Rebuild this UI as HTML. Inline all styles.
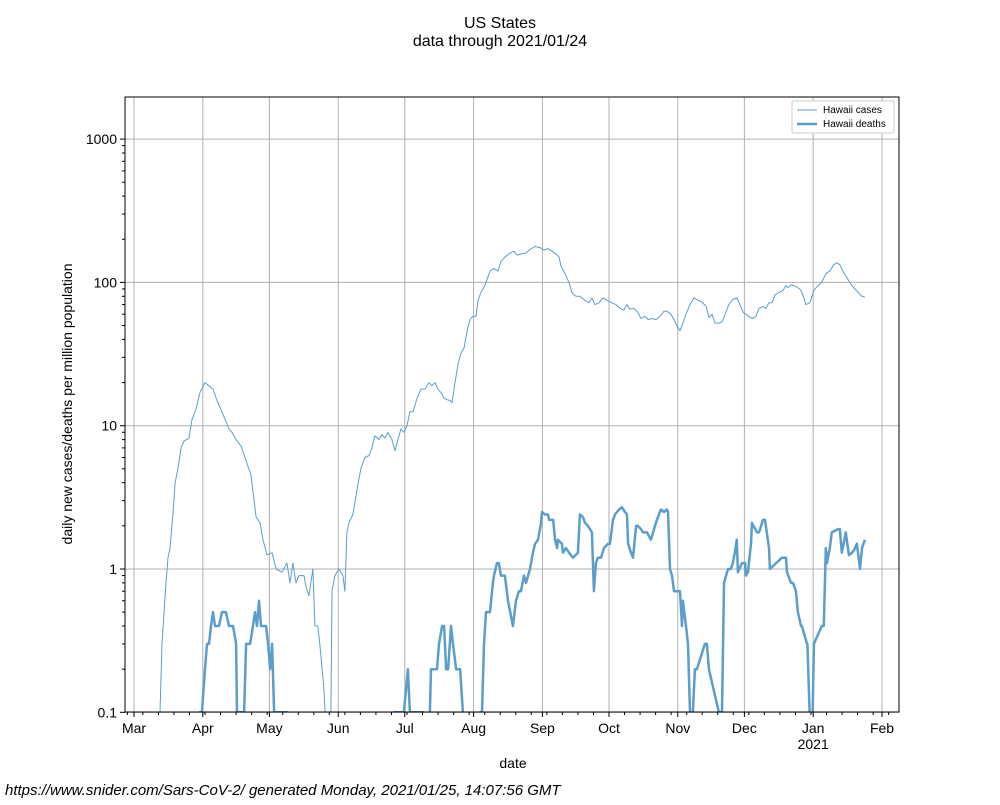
<!DOCTYPE html>
<html><head><meta charset="utf-8"><style>
body{margin:0;background:#fff;width:1000px;height:800px;overflow:hidden;font-family:"Liberation Sans",sans-serif}
svg text{font-family:"Liberation Sans",sans-serif}
</style></head><body>
<svg id="chart" width="1000" height="800"></svg>
<script>
const monthLabels=["Mar","Apr","May","Jun","Jul","Aug","Sep","Oct","Nov","Dec","Jan","Feb"];
const monthDays=[0,31,61,92,122,153,184,214,245,275,306,337];
const yTicks=[0.1,1,10,100,1000];
const yTickLabels=["0.1","1","10","100","1000"];
const caseDays=[11.7,12.6,14.4,15.3,16.2,17.6,18.5,19.8,21.2,22.5,24.8,26.1,27.9,29.7,32.0,33.8,35.6,37.4,40.1,42.8,44.1,46.0,48.2,50.0,52.7,54.1,55.0,56.8,58.1,59.9,62.2,64.0,66.7,68.9,70.3,71.6,73.0,74.3,76.6,77.5,78.8,80.6,81.5,82.8,83.7,85.5,86.4,87.5,88.3,
88.7,89.2,90.5,92.3,94.1,95.0,95.9,96.8,98.6,100.4,102.2,104.0,105.9,107.2,108.5,110.4,111.7,113.1,114.4,116.2,117.6,118.9,120.3,121.6,123.0,124.3,125.7,127.5,129.3,131.1,132.9,134.2,135.6,136.9,138.3,139.7,141.0,142.4,143.3,144.6,146.0,147.3,148.7,150.0,151.4,152.7,154.1,155.0,156.3,158.1,160.4,162.2,164.0,165.3,167.1,169.4,171.2,172.5,174.3,176.6,178.4,180.7,182.9,184.7,186.5,188.3,190.1,191.5,192.4,194.2,196.0,197.3,199.1,200.9,203.2,205.0,206.3,207.7,209.5,211.3,213.1,215.3,217.1,218.9,220.7,222.1,223.4,225.2,227.0,228.4,230.2,231.6,233.4,235.2,237.0,238.8,240.1,241.9,243.3,244.6,246.0,247.3,248.7,250.5,252.3,254.1,255.9,257.7,259.0,260.4,261.7,263.5,264.9,266.7,268.0,269.8,271.6,273.0,274.4,275.7,277.5,278.9,280.2,281.6,283.4,284.7,286.1,287.4,288.8,290.6,292.4,293.7,294.6,296.0,297.3,299.1,300.5,301.8,302.7,304.5,306.3,308.1,309.9,311.7,313.5,315.3,316.7,318.0,319.4,321.2,323.0,324.8,326.6,327.9,329.3];
const caseVals=[0.1,0.3,0.8,1.2,1.4,2.5,4,5,7,7.8,8.2,11,13,17,20,19,18,15,12,9.5,9,8,7.2,6,4.5,3,2.3,2.1,1.6,1.25,1.3,1.0,0.95,1.1,0.8,1.1,0.8,0.9,0.9,0.75,0.65,1.0,0.4,0.4,0.3,0.15,0.08,0.05,0.05,
0.1,0.7,0.9,1.0,0.9,0.7,1.8,2.1,2.4,3.5,5,6,6.2,7,8.5,8,8.7,8.2,9,8,6.7,8,9.5,9,10,12.5,12.5,15.5,18,18,20,19,20,18,17,15.5,15.2,15,14.5,20,27,32,35,45,55,58,58,75,85,95,120,125,120,140,150,160,165,155,158,160,170,178,175,168,172,165,158,150,130,115,100,85,80,80,75,72,78,70,72,78,75,72,70,66,64,70,65,66,62,56,58,55,56,55,58,63,63,60,55,50,46,52,60,70,78,75,73,68,57,60,52,52,53,62,70,76,78,70,62,60,57,56,58,66,68,66,72,72,82,85,88,95,92,96,95,92,88,78,70,72,88,95,100,115,120,133,137,133,120,108,97,90,84,80,79];
const deathDays=[29.3,30.6,32.0,32.9,33.8,34.7,35.6,36.5,38.3,39.6,41.4,42.8,44.6,46.0,46.4,46.9,49.6,50.5,52.3,53.6,54.5,55.4,56.3,57.2,59.5,60.4,61.3,62.2,63.1,68.9,69.5,
116.5,117.1,121.6,123.4,124.3,129.3,130.2,131.1,132.9,133.3,133.8,136.5,137.4,138.8,139.7,140.6,141.5,142.8,143.7,145.1,146.9,148.2,149.6,155.0,155.9,156.8,157.7,158.6,160.4,161.7,162.2,163.5,164.4,165.3,167.1,168.5,170.7,172.1,173.4,174.3,175.7,176.6,178.4,179.7,180.7,182.0,183.4,183.8,185.2,186.5,187.0,188.8,189.7,190.6,191.0,192.8,193.3,194.6,196.0,197.8,200.0,200.9,202.3,203.2,204.5,206.3,207.2,208.1,209.0,210.4,211.7,213.5,214.4,215.8,216.7,218.5,219.8,221.2,222.1,222.6,223.9,224.8,226.2,227.0,228.4,229.3,231.1,232.9,234.3,235.6,236.5,237.4,238.8,240.1,240.6,241.5,242.4,243.3,245.5,246.0,246.9,247.3,248.7,249.6,250.5,251.4,251.8,252.7,253.6,257.2,258.1,259.0,263.5,264.4,264.9,265.8,267.6,268.9,269.8,270.7,271.6,272.1,273.9,275.3,275.7,276.6,278.0,278.4,280.7,281.6,283.4,284.3,286.1,286.5,291.9,293.7,294.2,296.0,296.9,298.2,299.1,300.5,300.9,303.2,303.4,305.0,305.4,306.3,309.9,310.8,311.7,312.2,313.5,314.4,317.2,318.0,318.9,320.7,322.1,323.5,324.4,325.7,327.1,328.0,329.3];
const deathVals=[0.1,0.1,0.2,0.3,0.3,0.4,0.5,0.4,0.4,0.5,0.5,0.4,0.4,0.3,0.1,0.1,0.1,0.3,0.3,0.4,0.5,0.4,0.6,0.4,0.4,0.3,0.2,0.3,0.1,0.1,0.05,
0.05,0.1,0.1,0.2,0.1,0.1,0.1,0.05,0.05,0.1,0.2,0.2,0.3,0.4,0.4,0.2,0.2,0.4,0.3,0.2,0.2,0.1,0.05,0.05,0.1,0.1,0.3,0.5,0.5,0.8,0.9,1.1,1.1,0.9,0.9,0.6,0.4,0.6,0.7,0.7,0.9,0.8,1.0,1.3,1.5,1.6,2.1,2.5,2.4,2.4,2.2,2.2,1.6,1.4,1.6,1.5,1.3,1.4,1.3,1.2,1.3,2.4,2.3,2.1,2.0,1.8,0.7,1.1,1.2,1.2,1.4,1.5,1.5,2.2,2.4,2.6,2.7,2.5,2.4,1.5,1.3,1.2,2.0,2.0,1.9,1.8,1.8,1.6,1.9,2.2,2.4,2.6,2.5,2.6,2.5,1.0,0.9,0.7,0.7,0.7,0.4,0.6,0.4,0.3,0.1,0.05,0.1,0.2,0.2,0.3,0.3,0.2,0.1,0.1,0.1,0.8,1.0,1.0,1.1,1.3,1.6,0.95,1.1,1.1,0.9,0.95,1.5,2.1,1.8,1.8,2.2,2.2,1.4,1.0,1.2,1.2,0.95,0.8,0.8,0.7,0.5,0.4,0.4,0.3,0.3,0.05,0.05,0.3,0.4,0.4,1.4,1.1,1.4,1.8,1.9,1.9,1.3,1.8,1.25,1.3,1.35,1.5,1.0,1.4,1.6,2.0];

const L=125,R=899,T=97,B=712;
const x0=134,pxPerDay=(882-134)/337;
function xs(d){return x0+d*pxPerDay;}
function ys(v){return 569-Math.log10(v)*143.3;}
const svg=document.getElementById('chart');
const NS='http://www.w3.org/2000/svg';
function mk(tag,attrs,parent){const e=document.createElementNS(NS,tag);for(const k in attrs)e.setAttribute(k,attrs[k]);(parent||svg).appendChild(e);return e;}
function txt(s,attrs,parent){const e=mk('text',attrs,parent);e.textContent=s;return e;}

const defs=mk('defs',{});const cp=mk('clipPath',{id:'clip'},defs);mk('rect',{x:L,y:T,width:R-L,height:B-T},cp);

let t;
t=txt('US States',{x:500,y:28,'font-size':16,'text-anchor':'middle'});


t=txt('data through 2021/01/24',{x:500,y:46,'font-size':16,'text-anchor':'middle'});



// grid
monthDays.forEach(d=>{const l=mk('line',{x1:xs(d),x2:xs(d),y1:T,y2:B,stroke:'#b0b0b0','stroke-width':1});

});
yTicks.forEach(v=>{const l=mk('line',{x1:L,x2:R,y1:ys(v),y2:ys(v),stroke:'#b0b0b0','stroke-width':1});

});

function pathOf(ds,vs){return ds.map((d,i)=>(i?'L':'M')+xs(d).toFixed(1)+','+ys(vs[i]).toFixed(1)).join('');}
const g=mk('g',{'clip-path':'url(#clip)'});
const pc=mk('path',{d:pathOf(caseDays,caseVals),fill:'none',stroke:'#5b9ecb','stroke-width':1,'stroke-linejoin':'round'},g);


const pd=mk('path',{d:pathOf(deathDays,deathVals),fill:'none',stroke:'#5b9ecb','stroke-width':2.5,'stroke-linejoin':'round'},g);



// axes frame
const fr=mk('rect',{x:L,y:T,width:R-L,height:B-T,fill:'none',stroke:'#000','stroke-width':1});



// y ticks
yTicks.forEach((v,i)=>{mk('line',{x1:L-5,x2:L,y1:ys(v),y2:ys(v),stroke:'#000'});
const lb=txt(yTickLabels[i],{x:L-8,y:ys(v)+5,'font-size':14,'text-anchor':'end'});

});
for(let e=-1;e<4;e++)for(let m=2;m<10;m++){const v=m*Math.pow(10,e);const y=ys(v);if(y<T)continue;mk('line',{x1:L-3,x2:L,y1:y,y2:y,stroke:'#000'});}
// x ticks
monthDays.forEach((d,i)=>{mk('line',{x1:xs(d),x2:xs(d),y1:B,y2:B+5,stroke:'#000'});
const lb=txt(monthLabels[i],{x:xs(d),y:B+21,'font-size':14,'text-anchor':'middle'});

});
for(let d=-3;d<345;d+=7){const x=xs(d);if(x<L||x>R)continue;mk('line',{x1:x,x2:x,y1:B,y2:B+3,stroke:'#000'});}
t=txt('2021',{x:xs(306),y:B+37,'font-size':14,'text-anchor':'middle'});


t=txt('date',{x:513,y:768,'font-size':14,'text-anchor':'middle'});


t=txt('daily new cases/deaths per million population',{x:0,y:0,'font-size':14,'text-anchor':'middle',transform:'translate(72,404) rotate(-90)'});



// legend
const lg=mk('g',{});


mk('rect',{x:792,y:101,width:102,height:32,rx:2,fill:'#fff',stroke:'#ccc'},lg);
mk('line',{x1:797,x2:817,y1:110,y2:110,stroke:'#5b9ecb','stroke-width':1},lg);
t=txt('Hawaii cases',{x:823,y:113,'font-size':10},lg);


mk('line',{x1:797,x2:817,y1:124,y2:124,stroke:'#5b9ecb','stroke-width':2.5},lg);
t=txt('Hawaii deaths',{x:823,y:127,'font-size':10},lg);



t=txt('https://www.snider.com/Sars-CoV-2/ generated Monday, 2021/01/25, 14:07:56 GMT',{x:5,y:795,'font-size':15,'font-style':'italic'});


</script>
</body></html>
